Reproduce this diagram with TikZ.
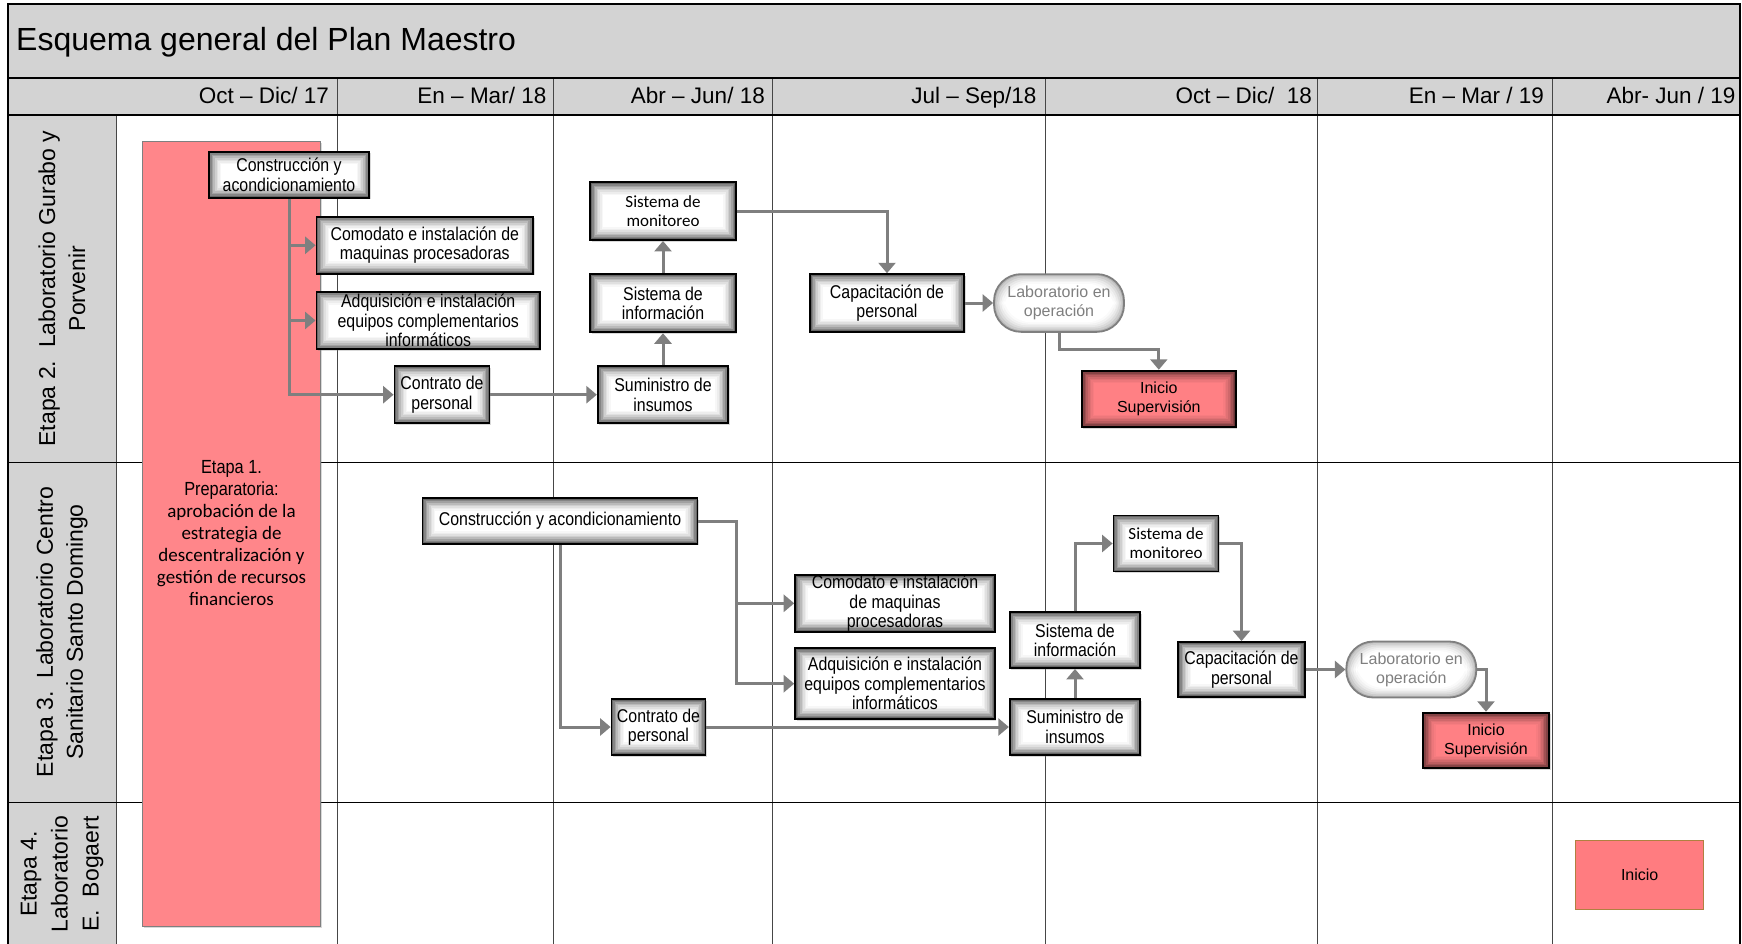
\documentclass[tikz,border=0pt]{standalone}
\usepackage{fontspec}
\setmainfont{Liberation Sans}
\newfontfamily\narrowfont[FakeStretch=0.86]{Liberation Sans}
\newfontfamily\carfont{Carlito}
\usetikzlibrary{arrows.meta,shadows,calc}
\definecolor{hdrgray}{RGB}{211,211,211}
\definecolor{arrgray}{RGB}{127,127,127}
\definecolor{pinkbar}{RGB}{255,134,138}
\definecolor{redbox}{RGB}{255,128,132}
\definecolor{iniciofill}{RGB}{255,124,128}
\definecolor{iniciodraw}{RGB}{176,128,64}
\definecolor{gridline}{RGB}{70,70,70}
\newcommand{\boxfont}{\narrowfont\fontsize{18.5}{19.5}\selectfont}
\newcommand{\sysfont}{\carfont\fontsize{17}{19}\selectfont}
\newcommand{\regfont}{\fontsize{16}{19}\selectfont}
\tikzset{
  glow/.style={path picture={
    \foreach \k/\c in {0/60,1/48,2/37,3/27,4/19,5/12,6/7,7/3,8/0}{
      \fill[black!\c!#1] ([xshift=\k*1.6pt,yshift=\k*1.6pt]path picture bounding box.south west) rectangle ([xshift=-\k*1.6pt,yshift=-\k*1.6pt]path picture bounding box.north east);}
  }},
  glowlight/.style={path picture={
    \foreach \k/\c in {0/28,1/20,2/14,3/9,4/5,5/2,6/0}{
      \fill[black!\c!white] ([xshift=\k*1.6pt,yshift=\k*1.6pt]path picture bounding box.south west) rectangle ([xshift=-\k*1.6pt,yshift=-\k*1.6pt]path picture bounding box.north east);}
  }},
  box/.style={draw=black, line width=1.8pt, inner sep=0pt, align=center, glow=white, font=\boxfont,
    drop shadow={shadow xshift=1.5pt, shadow yshift=-1.5pt, opacity=0.3}},
  redsq/.style={box, glow=redbox, font=\regfont},
  labbox/.style={draw=arrgray, line width=1.8pt, rounded corners=27pt, inner sep=0pt, align=center,
    glowlight, text=arrgray, font=\regfont},
  arr/.style={draw=arrgray, line width=3pt, -{Triangle[length=10.5pt,width=17pt]}},
  hdr/.style={anchor=base east, inner sep=0pt, font=\fontsize{22.5}{26}\selectfont},
  lanelbl/.style={rotate=90, align=center, inner sep=0pt, font=\fontsize{23}{30}\selectfont},
}
\begin{document}
\begin{tikzpicture}[x=1pt,y=-1pt]
\useasboundingbox (0,0) rectangle (1742,944);
% backgrounds
\fill[hdrgray] (8,4) rectangle (1740,115);
\fill[hdrgray] (8,115) rectangle (116,944);
% grid
\foreach \x in {337,553,772,1045.5,1317.6,1552}{\draw[gridline,line width=1pt] (\x,78) -- (\x,944);}
\draw[gridline,line width=1pt] (116,115) -- (116,944);
\draw[line width=1pt] (8,462.3) -- (1740,462.3);
\draw[line width=1pt] (8,802.5) -- (1740,802.5);
\draw[line width=1.5pt] (8,78) -- (1740,78);
\draw[line width=1.5pt] (8,115) -- (1740,115);
\draw[line width=1.5pt] (8,944) -- (8,4) -- (1740,4) -- (1740,944);
% title and headers
\node[anchor=base west, inner sep=0pt, font=\fontsize{32}{36}\selectfont] (title) at (16,50.5) {Esquema general del Plan Maestro};
\node[hdr] (h1) at (329,103.5) {Oct – Dic/ 17};
\node[hdr] (h2) at (546.5,103.5) {En – Mar/ 18};
\node[hdr] (h3) at (765,103.5) {Abr – Jun/ 18};
\node[hdr] (h4) at (1036.6,103.5) {Jul – Sep/18};
\node[hdr] (h5) at (1312,103.5) {Oct – Dic/\ \ 18};
\node[hdr] (h6) at (1544,103.5) {En – Mar / 19};
\node[hdr] (h7) at (1735.6,103.5) {Abr- Jun / 19};
% lane labels
\node[lanelbl] (l2) at (62,288.5) {Etapa 2.\ \ Laboratorio Gurabo y\\Porvenir};
\node[lanelbl] (l3) at (62,632) {Etapa 3.\ \ Laboratorio Centro\\Sanitario Santo Domingo};
\node[lanelbl, font=\fontsize{23}{31}\selectfont] (l4) at (62,874) {Etapa 4.\\Laboratorio\\E.\ \ Bogaert};
% Etapa 1 bar
\node[draw=arrgray, line width=1.5pt, fill=pinkbar, minimum width=178pt, minimum height=785pt, inner sep=0pt,
  drop shadow={shadow xshift=1.5pt, shadow yshift=-1.5pt, opacity=0.3}] (e1) at (231.5,534.2) {};
\node[align=center, inner sep=0pt, font=\carfont\fontsize{19}{22}\selectfont] (e1t) at (231.5,533.3)
  {{\narrowfont Etapa 1.}\\{\narrowfont Preparatoria:}\\aprobación de la\\estrategia de\\descentralización y\\gestión de recursos\\financieros};
% Lane 2 nodes
\node[box, minimum width=160.7pt, minimum height=46pt] (c2) at (289,174.7) {Construcción y\\acondicionamiento};
\node[box, minimum width=216.6pt, minimum height=57.3pt] (cm2) at (424.8,245.3) {Comodato e instalación de\\maquinas procesadoras};
\node[box, minimum width=223.5pt, minimum height=57.6pt] (ad2) at (428.2,320.5) {Adquisición e instalación\\equipos complementarios\\informáticos};
\node[box, minimum width=95pt, minimum height=57.3pt] (ct2) at (442,394.7) {Contrato de\\personal};
\node[box, minimum width=145.4pt, minimum height=57.7pt, font=\sysfont] (sm2) at (663,211.2) {Sistema de\\monitoreo};
\node[box, minimum width=145.4pt, minimum height=58.3pt] (si2) at (663,303.2) {Sistema de\\información};
\node[box, minimum width=130.5pt, minimum height=57.3pt] (su2) at (663,394.7) {Suministro de\\insumos};
\node[box, minimum width=154.2pt, minimum height=57.7pt] (cap2) at (887,303) {Capacitación de\\personal};
\node[labbox, minimum width=130pt, minimum height=57.7pt] (lab2) at (1059,303) {Laboratorio en\\operación};
\node[redsq, minimum width=154.3pt, minimum height=56.7pt] (is2) at (1158.8,399) {Inicio\\Supervisión};
% Lane 3 nodes
\node[box, minimum width=275pt, minimum height=45.7pt] (c3) at (560,521) {Construcción y acondicionamiento};
\node[box, minimum width=199.8pt, minimum height=56.7pt] (cm3) at (895,603.3) {Comodato e instalación\\de maquinas\\procesadoras};
\node[box, minimum width=199.8pt, minimum height=70.7pt] (ad3) at (895,683.7) {Adquisición e instalación\\equipos complementarios\\informáticos};
\node[box, minimum width=94pt, minimum height=56pt] (ct3) at (658.5,727) {Contrato de\\personal};
\node[box, minimum width=130.5pt, minimum height=56pt] (su3) at (1075,727) {Suministro de\\insumos};
\node[box, minimum width=130.5pt, minimum height=55.7pt] (si3) at (1075,640.2) {Sistema de\\información};
\node[box, minimum width=105pt, minimum height=56pt, font=\sysfont] (sm3) at (1166,543.5) {Sistema de\\monitoreo};
\node[box, minimum width=126.3pt, minimum height=55pt] (cap3) at (1241.5,669.5) {Capacitación de\\personal};
\node[labbox, minimum width=130pt, minimum height=56pt] (lab3) at (1411.3,669.5) {Laboratorio en\\operación};
\node[redsq, minimum width=126.3pt, minimum height=55.7pt] (is3) at (1486,740.5) {Inicio\\Supervisión};
% Lane 4
\node[draw=iniciodraw, fill=iniciofill, line width=1pt, minimum width=128pt, minimum height=69pt, font=\regfont] (in4) at (1639.7,874.5) {Inicio};
% Lane 2 connectors
\draw[arr] (c2.south) |- (ct2.west);
\draw[arr] (c2.south |- cm2.west) -- (cm2.west);
\draw[arr] (c2.south |- ad2.west) -- (ad2.west);
\draw[arr] (ct2.east) -- (su2.west);
\draw[arr] (su2.north) -- (si2.south);
\draw[arr] (si2.north) -- (sm2.south);
\draw[arr] (sm2.east) -| (cap2.north);
\draw[arr] (cap2.east) -- (lab2.west);
\draw[arr] (lab2.south) -- ++(0,17) -| (is2.north);
% Lane 3 connectors
\draw[arr] (c3.east) -- ++(38,0) |- (cm3.west);
\draw[arr] (c3.east) -- ++(38,0) |- (ad3.west);
\draw[arr] (c3.south) |- (ct3.west);
\draw[arr] (ct3.east) -- (su3.west);
\draw[arr] (su3.north) -- (si3.south);
\draw[arr] (si3.north) |- (sm3.west);
\draw[arr] (sm3.east) -| (cap3.north);
\draw[arr] (cap3.east) -- (lab3.west);
\draw[arr] (lab3.east) -| (is3.north);
\end{tikzpicture}
\end{document}
